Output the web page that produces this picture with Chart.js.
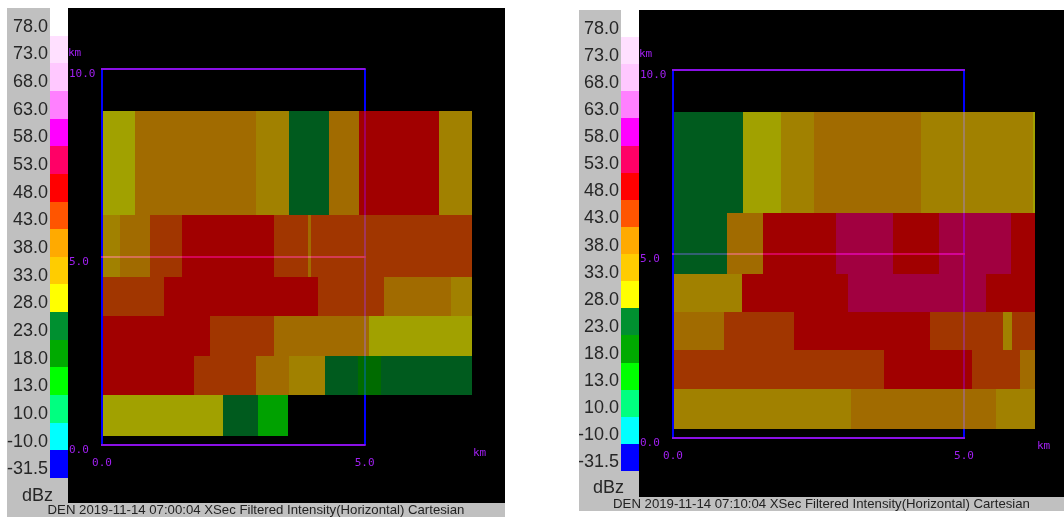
<!DOCTYPE html>
<html>
<head>
<meta charset="utf-8">
<script src="https://cdn.jsdelivr.net/npm/chart.js@4.4.1/dist/chart.umd.min.js"></script>
<style>
  body { margin: 0; background: #fff; width: 1064px; height: 517px; overflow: hidden; position: relative; font-family: "Liberation Sans", Arial, sans-serif; }
  .panel { position: absolute; background: #c0c0c0; overflow: hidden; }
  .plot { position: absolute; top: 0; background: #000; }
  .plot canvas { display: block; }
  .cb-cell { position: absolute; width: 18px; }
  .cb-label { position: absolute; width: 60px; text-align: right; font-size: 18px; line-height: 20px; color: #262626; }
  .caption { position: absolute; left: 0; right: 0; height: 14px; line-height: 14px; text-align: center; font-size: 13.2px; color: #222; white-space: nowrap; }
</style>
</head>
<body>

<div class="panel" id="leftPanel" style="left:7px; top:8px; width:498px; height:509px;">
  <div class="plot" style="left:61px; width:437px; height:495px;"><canvas id="leftChart" width="437" height="495"></canvas></div>
  <div class="caption" style="top:495px;">DEN 2019-11-14 07:00:04 XSec Filtered Intensity(Horizontal) Cartesian</div>
</div>

<div class="panel" id="rightPanel" style="left:579px; top:10px; width:485px; height:501px;">
  <div class="plot" style="left:60px; width:425px; height:487px;"><canvas id="rightChart" width="425" height="487"></canvas></div>
  <div class="caption" style="top:487px;">DEN 2019-11-14 07:10:04 XSec Filtered Intensity(Horizontal) Cartesian</div>
</div>

<script>
// colour scale (top to bottom)
const CB_LABELS = ["78.0", "73.0", "68.0", "63.0", "58.0", "53.0", "48.0", "43.0", "38.0",
                   "33.0", "28.0", "23.0", "18.0", "13.0", "10.0", "-10.0", "-31.5"];
const CB_FLOORS = [78, 73, 68, 63, 58, 53, 48, 43, 38, 33, 28, 23, 18, 13, 10, -10, -31.5];
const CB_COLORS = ["#ffffff", "#ffe0ff", "#ffc8ff", "#ff80ff", "#ff00ff", "#ff0066", "#ff0000",
                   "#ff5500", "#ffaa00", "#ffcc00", "#ffff00", "#009030", "#00aa00", "#00ff00",
                   "#00ff80", "#00ffff", "#0000ff"];

// beam row edges, km (bottom to top)
const ROW_KM = [0.24, 1.33, 2.38, 3.42, 4.47, 6.12, 8.87];

// axis ticks
const X_TICKS = [0, 5];
const Y_TICKS = [0, 5, 10];

// 07:00:04 - per row: cell edges along range (km) and reflectivity (dBZ)
const LEFT_EDGES = [
  [0, 2.28, 2.96, 3.53],
  [0, 1.74, 2.92, 3.55, 4.22, 4.85, 5.30, 7.02],
  [0, 2.03, 3.25, 5.06, 7.02],
  [0, 1.17, 4.09, 5.34, 6.62, 7.02],
  [0, 0.33, 0.90, 1.50, 3.25, 3.91, 3.95, 7.02],
  [0, 0.60, 2.92, 3.55, 4.30, 4.87, 6.39, 7.02]
];
const LEFT_DBZ = [
  [30, 25, 15],
  [50, 45, 40, 35, 25, 20, 25],
  [50, 45, 40, 30],
  [45, 50, 45, 40, 35],
  [35, 40, 45, 50, 45, 40, 45],
  [30, 40, 35, 25, 40, 50, 35]
];

// 07:10:04
const RIGHT_EDGES = [
  [0, 3.04, 5.53, 6.20],
  [0, 3.61, 5.12, 5.95, 6.20],
  [0, 0.86, 2.06, 4.40, 5.65, 5.81, 6.20],
  [0, 1.17, 2.99, 5.36, 6.20],
  [0, 0.91, 1.53, 2.78, 3.76, 4.55, 5.79, 6.20],
  [0, 1.19, 1.84, 2.41, 4.24, 6.17, 6.21]
];
const RIGHT_DBZ = [
  [35, 40, 35],
  [45, 50, 45, 40],
  [40, 45, 50, 45, 35, 45],
  [35, 50, 55, 50],
  [25, 40, 50, 55, 50, 55, 50],
  [25, 30, 35, 40, 35, 30]
];

const LABEL_COLOR = "#a020f0";
const LINE_PURPLE = "#8a10e6";
const AXIS_FONT = { family: "'DejaVu Sans Mono', monospace", size: 11 };

function dbzColor(v) {
  for (let i = 0; i < CB_FLOORS.length; i++) {
    if (v >= CB_FLOORS[i]) return CB_COLORS[i];
  }
  return CB_COLORS[CB_COLORS.length - 1];
}

// colour bar legend on the grey strip
function buildColorbar(panelId, cellH, cbLeft, labelRight, dbzX, dbzY) {
  const panel = document.getElementById(panelId);
  CB_COLORS.forEach((c, i) => {
    const top = Math.round(i * cellH);
    const d = document.createElement("div");
    d.className = "cb-cell";
    d.style.left = cbLeft + "px";
    d.style.top = top + "px";
    d.style.height = (Math.round((i + 1) * cellH) - top) + "px";
    d.style.background = c;
    panel.appendChild(d);

    const t = document.createElement("div");
    t.className = "cb-label";
    t.textContent = CB_LABELS[i];
    t.style.left = (labelRight - 60) + "px";
    t.style.top = (i * cellH + cellH / 2 + 4 - 10) + "px";
    panel.appendChild(t);
  });
  const u = document.createElement("div");
  u.className = "cb-label";
  u.textContent = "dBz";
  u.style.textAlign = "center";
  u.style.left = (dbzX - 30) + "px";
  u.style.top = (dbzY - 10) + "px";
  panel.appendChild(u);
}

// frame + cells, drawn with the chart's scales
function makeCellPlugin(edges, dbz, kmX) {
  return {
    id: "xsecCells",
    beforeDatasetsDraw(chart) {
      const { ctx, scales: { x, y } } = chart;
      ctx.save();
      ctx.lineWidth = 2;
      // vertical frame lines
      ctx.strokeStyle = "#0000ff";
      X_TICKS.forEach(v => {
        const px = Math.round(x.getPixelForValue(v));
        ctx.beginPath();
        ctx.moveTo(px, y.getPixelForValue(0));
        ctx.lineTo(px, y.getPixelForValue(10));
        ctx.stroke();
      });
      // horizontal frame lines
      ctx.strokeStyle = LINE_PURPLE;
      Y_TICKS.forEach(v => {
        const py = Math.round(y.getPixelForValue(v));
        ctx.beginPath();
        ctx.moveTo(x.getPixelForValue(0) - 1, py);
        ctx.lineTo(x.getPixelForValue(5) + 1, py);
        ctx.stroke();
      });

      // reflectivity cells (semi transparent, frame shows through)
      ctx.globalAlpha = 0.63;
      edges.forEach((row, r) => {
        const top = Math.round(y.getPixelForValue(ROW_KM[r + 1]));
        const bot = Math.round(y.getPixelForValue(ROW_KM[r]));
        for (let i = 0; i < row.length - 1; i++) {
          const x0 = Math.round(x.getPixelForValue(row[i])) + 1;
          const x1 = Math.round(x.getPixelForValue(row[i + 1])) + 1;
          ctx.fillStyle = dbzColor(dbz[r][i]);
          ctx.fillRect(x0, top, x1 - x0, bot - top);
        }
      });
      ctx.globalAlpha = 1;

      // unit labels
      ctx.fillStyle = LABEL_COLOR;
      ctx.font = "11px 'DejaVu Sans Mono', monospace";
      ctx.textBaseline = "middle";
      ctx.textAlign = "left";
      ctx.fillText("km", 0, y.getPixelForValue(10) - 16);
      ctx.fillText("km", kmX, y.getPixelForValue(0) + 8);
      ctx.restore();
    }
  };
}

function createXSecChart(canvasId, edges, dbz, p) {
  const ctx = document.getElementById(canvasId);
  if (!ctx) return;
  return new Chart(ctx, {
    type: "scatter",
    data: { datasets: [] },
    options: {
      responsive: false,
      animation: false,
      layout: { padding: { left: 1, top: p.top, right: p.right, bottom: p.bottom } },
      plugins: {
        legend: { display: false },
        tooltip: { enabled: false }
      },
      scales: {
        x: {
          type: "linear",
          min: 0,
          max: p.xMax,
          grid: { display: false, drawTicks: false },
          border: { display: false },
          afterBuildTicks: s => { s.ticks = X_TICKS.map(v => ({ value: v })); },
          afterFit: s => { s.height = 40; },
          ticks: {
            padding: 12,
            color: LABEL_COLOR,
            font: AXIS_FONT,
            maxRotation: 0,
            autoSkip: false,
            callback: v => Number(v).toFixed(1)
          }
        },
        y: {
          type: "linear",
          min: 0,
          max: 10,
          grid: { display: false, drawTicks: false },
          border: { display: false },
          afterBuildTicks: s => { s.ticks = Y_TICKS.map(v => ({ value: v })); },
          afterFit: s => { s.width = 33; },
          ticks: {
            padding: 0,
            crossAlign: "far",
            labelOffset: 5,
            color: LABEL_COLOR,
            font: AXIS_FONT,
            autoSkip: false,
            callback: v => Number(v).toFixed(1)
          }
        }
      }
    },
    plugins: [makeCellPlugin(edges, dbz, p.kmX)]
  });
}

buildColorbar("leftPanel", 470 / 17, 43, 41, 30.5, 487);
buildColorbar("rightPanel", 461 / 17, 42, 40, 29.5, 477);

createXSecChart("leftChart", LEFT_EDGES, LEFT_DBZ, { top: 61, bottom: 18, right: 9, xMax: 7.5, kmX: 405 });
createXSecChart("rightChart", RIGHT_EDGES, RIGHT_DBZ, { top: 60, bottom: 19, right: 4, xMax: 6.65, kmX: 398 });
</script>
</body>
</html>
